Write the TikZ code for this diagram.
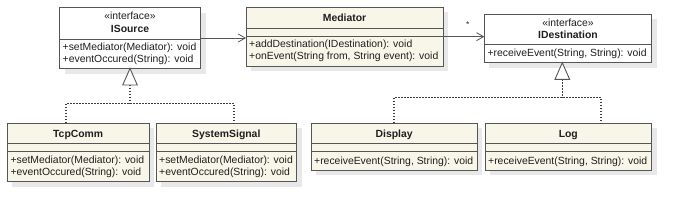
\documentclass[tikz,border=0pt]{standalone}
\usepackage{fontspec}
\setmainfont{Liberation Sans}
\usetikzlibrary{arrows.meta}
\definecolor{cream}{RGB}{248,246,232}
\definecolor{linec}{RGB}{85,85,85}
\definecolor{shadowc}{RGB}{232,232,232}
\newcommand{\umlbox}[6]{%
  \fill[shadowc] ({#2+5},{#3+5}) rectangle ({#4+5},{#5+5});
  \node[cls, fill=#6, minimum width={#4-#2}, minimum height={#5-#3}] (#1) at (#2,#3) {};}
\begin{document}
\begin{tikzpicture}[x=1pt,y=-1pt,
  font=\fontsize{10.4}{12}\selectfont,
  cls/.style={draw=linec, line width=0.9pt, inner sep=0pt, outer sep=0pt, anchor=north west},
  sepline/.style={draw=linec, line width=0.9pt},
  txt/.style={inner sep=0pt, anchor=base west, text=black!88},
  ttl/.style={inner sep=0pt, anchor=base, text=black!88, font=\fontsize{10.4}{12}\selectfont\bfseries},
  stereo/.style={inner sep=0pt, anchor=base, text=black!88},
  assoc/.style={draw=linec, line width=0.8pt, -{Straight Barb[length=7pt,width=8pt]}},
  realize/.style={draw=black!75, line width=1.2pt, dash pattern=on 1.3pt off 1.7pt},
  tri/.style={draw=linec, line width=0.9pt, fill=white}]
\useasboundingbox (0,0) rectangle (683,214);

% ---- boxes ----
\umlbox{isrc}{59.5}{7.5}{200.5}{68.5}{white}
\umlbox{med}{246}{7.3}{443.3}{66}{cream}
\umlbox{idst}{484.3}{14.3}{651.7}{62.7}{white}
\umlbox{tcp}{7.3}{123.3}{149}{181.7}{cream}
\umlbox{sys}{156}{123.3}{296.7}{181.7}{cream}
\umlbox{disp}{311}{123.3}{477.3}{170}{cream}
\umlbox{log}{485}{123.3}{651.7}{170}{cream}

% ---- separators ----
\draw[sepline] (isrc.west |- 0,39) -- (isrc.east |- 0,39);
\draw[sepline] (med.west |- 0,28.3) -- (med.east |- 0,28.3);
\draw[sepline] (med.west |- 0,36.7) -- (med.east |- 0,36.7);
\draw[sepline] (idst.west |- 0,44.3) -- (idst.east |- 0,44.3);
\foreach \b in {tcp,sys,disp,log}{
  \draw[sepline] (\b.west |- 0,143) -- (\b.east |- 0,143);
  \draw[sepline] (\b.west |- 0,151) -- (\b.east |- 0,151);
}

% ---- texts ----
\node[stereo] (isrcst) at (130,19.2) {«interface»};
\node[ttl] (isrct) at (130,32.2) {ISource};
\node[txt] (isrcm1) at (62.5,50.5) {+setMediator(Mediator): void};
\node[txt] (isrcm2) at (62.5,62.5) {+eventOccured(String): void};

\node[ttl] (medt) at (344.6,21.8) {Mediator};
\node[txt] (medm1) at (249,47.8) {+addDestination(IDestination): void};
\node[txt] (medm2) at (249,59.8) {+onEvent(String from, String event): void};

\node[stereo] (idstst) at (568,26.8) {«interface»};
\node[ttl] (idstt) at (568,38.5) {IDestination};
\node[txt] (idstm1) at (487.3,56.2) {+receiveEvent(String, String): void};

\node[ttl] (tcpt) at (78.2,137.5) {TcpComm};
\node[txt] (tcpm1) at (10.3,163.5) {+setMediator(Mediator): void};
\node[txt] (tcpm2) at (10.3,175) {+eventOccured(String): void};

\node[ttl] (syst) at (226.3,137.5) {SystemSignal};
\node[txt] (sysm1) at (159,163.5) {+setMediator(Mediator): void};
\node[txt] (sysm2) at (159,175) {+eventOccured(String): void};

\node[ttl] (dispt) at (394.2,137.5) {Display};
\node[txt] (dispm1) at (314,164.5) {+receiveEvent(String, String): void};

\node[ttl] (logt) at (568.3,137.5) {Log};
\node[txt] (logm1) at (488,164.5) {+receiveEvent(String, String): void};

% ---- associations ----
\draw[assoc] (isrc.east) -- (isrc.east -| med.west);
\draw[assoc] (med.east) -- (med.east -| idst.west);
\node[inner sep=0pt, text=black!85, font=\fontsize{8.5}{8.5}\selectfont] (mult) at (467.7,24.5) {*};

% ---- realizations: ISource ----
\coordinate (ta) at (isrc.south);
\coordinate (tab) at (130,85);
\coordinate (hl1) at (66,103.7);
\coordinate (hr1) at (234,103.7);
\coordinate (hc1) at (130,103.7);
\draw[realize, line width=1.5pt] (tab) -- (hc1);
\draw[realize] (tcp.north -| hl1) -- (hl1) -- (hr1) -- (sys.north -| hr1);
\draw[tri] (ta) -- (122.7,85) -- (137.3,85) -- cycle;

% ---- realizations: IDestination ----
\coordinate (tb) at (idst.south -| 562.3,0);
\coordinate (tbb) at (562.3,79.3);
\coordinate (hl2) at (394,97.7);
\coordinate (hr2) at (601,97.7);
\coordinate (hc2) at (562.3,97.7);
\draw[realize, line width=1.5pt] (tbb) -- (hc2);
\draw[realize] (disp.north -| hl2) -- (hl2) -- (hr2) -- (log.north -| hr2);
\draw[tri] (tb) -- (555,79.3) -- (569.6,79.3) -- cycle;
\end{tikzpicture}
\end{document}
